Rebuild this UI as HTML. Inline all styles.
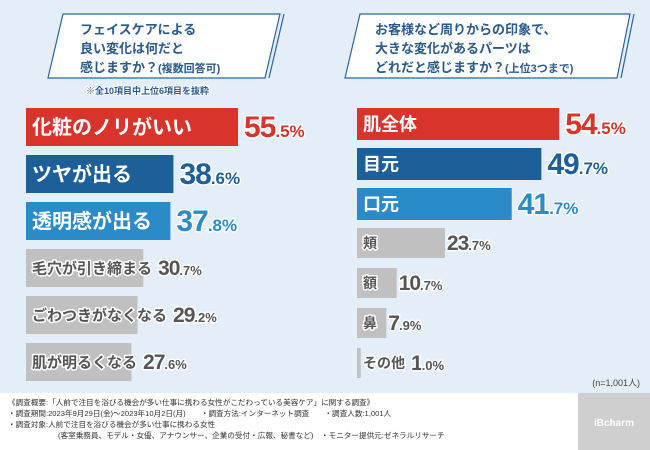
<!DOCTYPE html>
<html><head><meta charset="utf-8">
<style>
body{margin:0;width:650px;height:450px;overflow:hidden;background:#e3eef8;font-family:"Liberation Sans","Noto Sans CJK JP",sans-serif}
svg{display:block}
text{font-family:"Liberation Sans","Noto Sans CJK JP",sans-serif}
.lbl{font-weight:bold;stroke:#fff;stroke-width:3px;paint-order:stroke;stroke-linejoin:round}
.num{font-family:"Liberation Sans Narrow","Liberation Sans",sans-serif}
</style></head><body>
<svg id="c" width="650" height="450">
<rect x="0" y="0" width="650" height="450" fill="#e3eef8"/>
<g>
<polygon points="63,14 280,14 265,78 48,78" fill="#fff" stroke="#2a64a0" stroke-width="1.2"/>
<line x1="284" y1="14" x2="269" y2="78" stroke="#2a64a0" stroke-width="1.2"/>
<text x="80" y="34" font-size="13" fill="#2a5a8c" font-weight="bold">フェイスケアによる</text>
<text x="80" y="53" font-size="13" fill="#2a5a8c" font-weight="bold">良い変化は何だと</text>
<text x="80" y="72" font-size="13" fill="#2a5a8c" font-weight="bold">感じますか？<tspan font-size="11">(複数回答可)</tspan></text>
</g>
<text x="86" y="94" font-size="9" fill="#2a5a8c" font-weight="bold" class="lbl" style="stroke-width:2px">※全10項目中上位6項目を抜粋</text>
<g>
<polygon points="360,14 630,14 617,78 345,78" fill="#fff" stroke="#2a64a0" stroke-width="1.2"/>
<line x1="634" y1="14" x2="621" y2="78" stroke="#2a64a0" stroke-width="1.2"/>
<text x="375" y="34" font-size="13" fill="#2a5a8c" font-weight="bold">お客様など周りからの印象で、</text>
<text x="375" y="53" font-size="13" fill="#2a5a8c" font-weight="bold">大きな変化があるパーツは</text>
<text x="375" y="72" font-size="13" fill="#2a5a8c" font-weight="bold">どれだと感じますか？<tspan font-size="11">(上位3つまで)</tspan></text>
</g>
<g id="left"></g>
<g id="right"></g>
<text x="640" y="386" font-size="9" fill="#444" text-anchor="end">(n=1,001人)</text>
<g>
<rect x="0" y="393" width="650" height="57" fill="#fff"/>
<rect x="578" y="393" width="72" height="57" fill="#cfcfcf"/>
<text x="614" y="426" font-size="10" fill="#fff" text-anchor="middle" font-weight="bold">iBcharm</text>
<g font-size="7.6" fill="#333">
<text x="8" y="405">《調査概要:「人前で注目を浴びる機会が多い仕事に携わる女性がこだわっている美容ケア」に関する調査》</text>
<text x="8" y="416">・調査期間:2023年9月29日(金)～2023年10月2日(月)　　・調査方法:インターネット調査　　・調査人数:1,001人</text>
<text x="8" y="427">・調査対象:人前で注目を浴びる機会が多い仕事に携わる女性</text>
<text x="58" y="438">(客室乗務員、モデル・女優、アナウンサー、企業の受付・広報、秘書など)　・モニター提供元:ゼネラルリサーチ</text>
</g>
</g>
</svg>
<script>
const leftCats=["化粧のノリがいい","ツヤが出る","透明感が出る","毛穴が引き締まる","ごわつきがなくなる","肌が明るくなる"];
const leftVals=[55.5,38.6,37.8,30.7,29.2,27.6];
const rightCats=["肌全体","目元","口元","頬","額","鼻","その他"];
const rightVals=[54.5,49.7,41.7,23.7,10.7,7.9,1.0];
const colors=["#d9342b","#1d5f99","#2b8bc9"];
const NS="http://www.w3.org/2000/svg";
function mk(t,a,p){const e=document.createElementNS(NS,t);for(const k in a)e.setAttribute(k,a[k]);p.appendChild(e);return e;}
function draw(gid,cats,vals,x0,y0,pitch,scale,hc,hg,fsC,fsG,pad){
  const g=document.getElementById(gid);
  cats.forEach((c,i)=>{
    const big=i<3, h=big?hc:hg, y=y0+i*pitch;
    const w=vals[i]*scale;
    const r=mk('rect',{x:x0,y:y,width:Math.max(w,2),height:h,fill:big?colors[i]:'#c0c0c0'},g);
    
    
    const fs=big?fsC:fsG;
    const t=mk('text',{x:x0+pad,y:y+h/2+fs*0.36,'font-size':fs,fill:big?'#fff':'#555','font-weight':'bold'},g);
    if(!big){t.setAttribute('class','lbl');}
    t.textContent=c;
    
    
    let vx;
    if(big) vx=x0+w+6; else vx=Math.max(x0+w, x0+pad+t.getComputedTextLength()+4)+2;
    const s=vals[i].toFixed(1).split('.');
    const v=mk('text',{x:vx,y:y+h/2+(big?10:7),fill:big?colors[i]:'#555',class:'lbl num','font-weight':'bold'},g);
    v.innerHTML='<tspan font-size="'+(big?30:21)+'" letter-spacing="-1">'+s[0]+'</tspan><tspan font-size="'+(big?17:13)+'">.'+s[1]+'%</tspan>';
    
    
  });
}
draw('left',leftCats,leftVals,26,108,47,3.82,38,38,20,15,6);
draw('right',rightCats,rightVals,357,108,40,3.71,32,30,18,14,6);
</script>
</body></html>
